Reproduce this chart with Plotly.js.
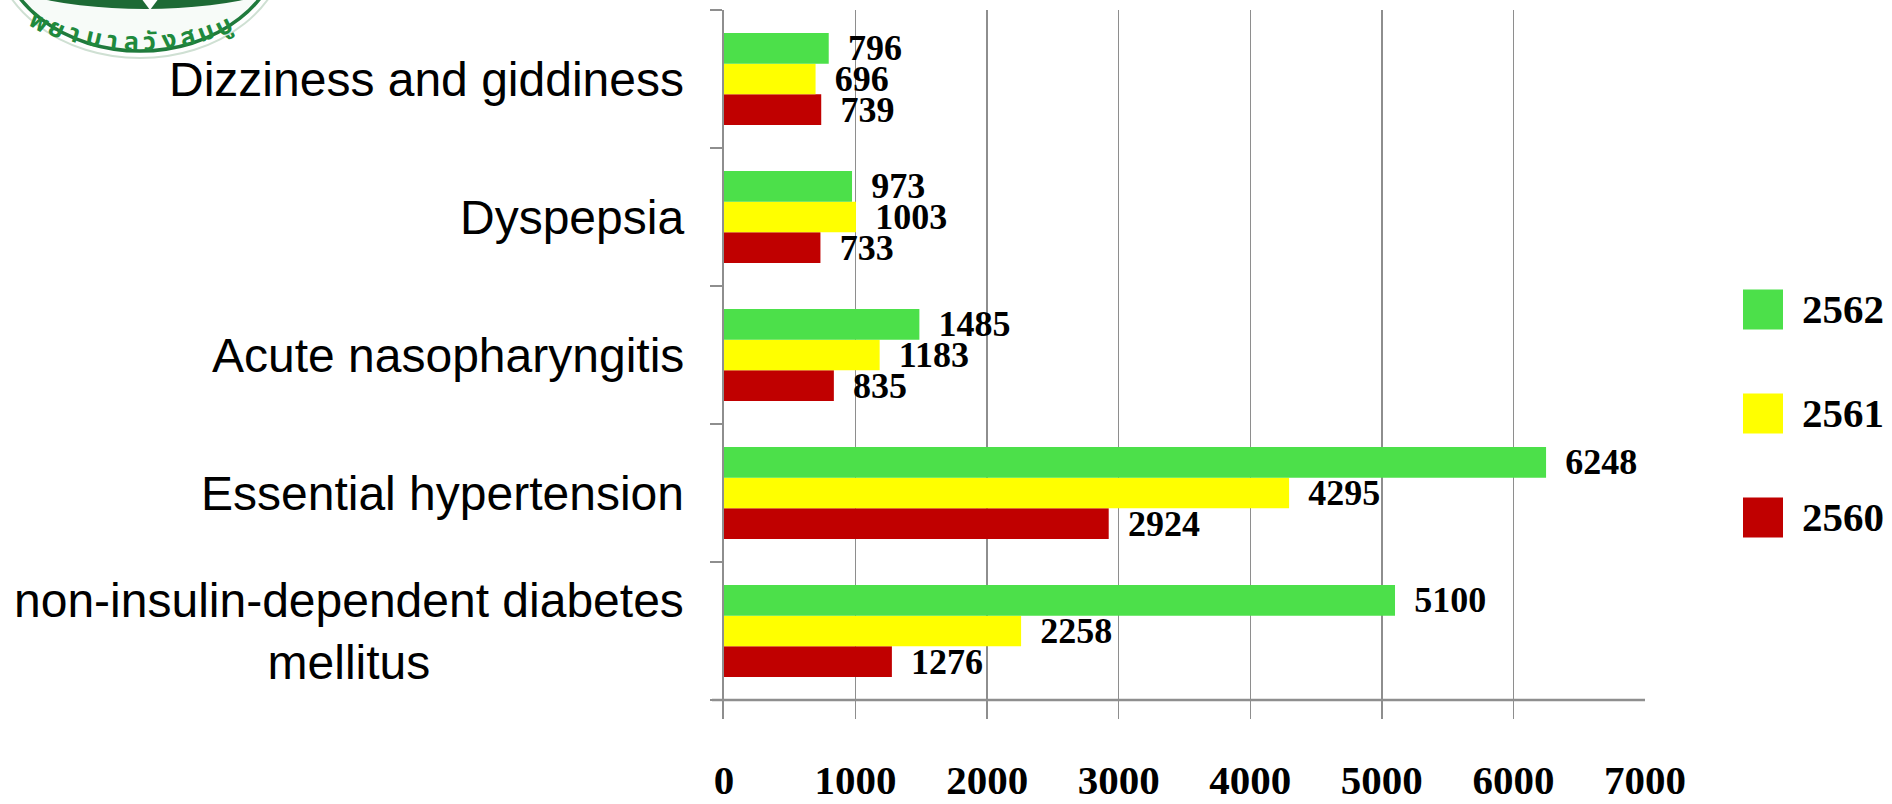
<!DOCTYPE html>
<html>
<head>
<meta charset="utf-8">
<script src="https://cdn.plot.ly/plotly-3.0.1.min.js"></script>
<style>
  html, body { margin: 0; padding: 0; background: #fff; }
  #chart { width: 1892px; height: 804px; }
</style>
</head>
<body>
<div id="chart"></div>
<script>
// ---- data ----
const categories = [
  'non-insulin-dependent diabetes<br>mellitus',
  'Essential hypertension',
  'Acute nasopharyngitis',
  'Dyspepsia',
  'Dizziness and giddiness'
];
const seriesNames = ['2560', '2561', '2562'];
const values2560 = [1276, 2924, 835, 733, 739];
const values2561 = [2258, 4295, 1183, 1003, 696];
const values2562 = [5100, 6248, 1485, 973, 796];
const xTickVals = [0, 1000, 2000, 3000, 4000, 5000, 6000, 7000];
const logoText = ['พ', 'ย', 'า', 'บ', 'า', 'ล', 'วั', 'ง', 'ส', 'ม', 'บู'];

// ---- styles ----
const colors = { '2560': '#C00000', '2561': '#FFFF00', '2562': '#4CE04A' };
const seriesValues = { '2560': values2560, '2561': values2561, '2562': values2562 };
const gridColor = '#8e8e8e';
const serifBold = { family: 'Liberation Serif, Times New Roman, serif', weight: 700, color: '#000' };

// plot area in pixels
const W = 1892, H = 804, L = 724, R = 1645, T = 10, B = 719;
const px2x = p => (p - L) / (R - L);
const px2y = p => (B - p) / (B - T);

const traces = seriesNames.map(name => ({
  type: 'bar',
  orientation: 'h',
  name: name,
  y: categories,
  x: seriesValues[name],
  text: seriesValues[name].map(v => '\u00a0' + '\u2009' + v),
  textposition: 'outside',
  constraintext: 'none',
  cliponaxis: false,
  textfont: Object.assign({ size: 36 }, serifBold),
  marker: { color: colors[name], line: { width: 0 } },
  hoverinfo: 'skip'
}));

const shapes = [];
const annotations = [];

// bottom category boundary line
shapes.push({
  type: 'line', xref: 'paper', yref: 'y',
  x0: px2x(712), x1: 1, y0: -0.5, y1: -0.5,
  line: { color: gridColor, width: 2.5 }
});

// category labels
categories.forEach(c => {
  annotations.push({
    xref: 'paper', yref: 'y', x: px2x(686), y: c,
    xanchor: 'right', yanchor: 'middle', align: 'center',
    text: c, showarrow: false,
    font: { family: 'Liberation Sans, Arial, sans-serif', size: 48, color: '#000' }
  });
});

// custom legend (2562 top, 2560 bottom)
const legendOrder = ['2562', '2561', '2560'];
legendOrder.forEach((name, i) => {
  const cy = 309.5 + i * 104;
  shapes.push({
    type: 'rect', xref: 'paper', yref: 'paper',
    x0: px2x(1743), x1: px2x(1783), y0: px2y(cy + 20), y1: px2y(cy - 20),
    fillcolor: colors[name], line: { width: 0 }
  });
  annotations.push({
    xref: 'paper', yref: 'paper', x: px2x(1800), y: px2y(cy - 1),
    xanchor: 'left', yanchor: 'middle', text: name, showarrow: false,
    font: Object.assign({ size: 41 }, serifBold)
  });
});

// logo (partial circular seal at top-left)
function ellipse(cx, cy, a, b, fill, lineColor, lw) {
  shapes.push({
    type: 'circle', xref: 'paper', yref: 'paper', layer: 'above',
    x0: px2x(cx - a), x1: px2x(cx + a), y0: px2y(cy + b), y1: px2y(cy - b),
    fillcolor: fill, line: { color: lineColor, width: lw }
  });
}
ellipse(140, -60, 148, 118, 'rgba(0,0,0,0)', '#cfe0d3', 2);
ellipse(140, -60, 141, 111, '#f7fbf8', '#1f7a3c', 3.5);
ellipse(145, -40, 170, 49, '#1d6a35', '#1d6a35', 0);
shapes.push({
  type: 'path', xref: 'paper', yref: 'paper', layer: 'above',
  path: 'M ' + px2x(141) + ' ' + px2y(-2) + ' L ' + px2x(159) + ' ' + px2y(-2) +
        ' L ' + px2x(150) + ' ' + px2y(10) + ' Z',
  fillcolor: '#ffffff', line: { width: 0 }
});
logoText.forEach((ch, i) => {
  const th = (i - 5.3) * 0.076;
  const x = 137 + 250 * Math.sin(th);
  const y = -208 + 250 * Math.cos(th);
  annotations.push({
    xref: 'paper', yref: 'paper', x: px2x(x), y: px2y(y),
    xanchor: 'center', yanchor: 'middle', showarrow: false,
    text: ch, textangle: -th * 180 / Math.PI * 1.3,
    font: { family: 'Noto Sans Thai, Noto Sans, DejaVu Sans, sans-serif', size: 25, weight: 700, color: '#1f8a3d' }
  });
});

const layout = {
  width: W, height: H,
  margin: { l: L, r: W - R, t: T, b: H - B, pad: 0 },
  paper_bgcolor: '#ffffff', plot_bgcolor: '#ffffff',
  barmode: 'group', bargap: 0.333, bargroupgap: 0,
  showlegend: false,
  xaxis: {
    range: [0, 7000], tickvals: xTickVals, ticktext: xTickVals.map(String),
    showgrid: true, gridcolor: gridColor, gridwidth: 1.5,
    zeroline: false, showline: false, ticks: '',
    ticklabelstandoff: 33,
    tickfont: Object.assign({ size: 41 }, serifBold),
    fixedrange: true
  },
  yaxis: {
    type: 'category', range: [-0.6377, 4.5],
    tickson: 'boundaries', ticks: 'outside', ticklen: 12, tickwidth: 2, tickcolor: gridColor,
    showticklabels: false, showgrid: false, zeroline: false,
    showline: true, linecolor: gridColor, linewidth: 2,
    fixedrange: true
  },
  shapes: shapes,
  annotations: annotations
};

Plotly.newPlot('chart', traces, layout, { displayModeBar: false, staticPlot: true });
</script>
</body>
</html>
